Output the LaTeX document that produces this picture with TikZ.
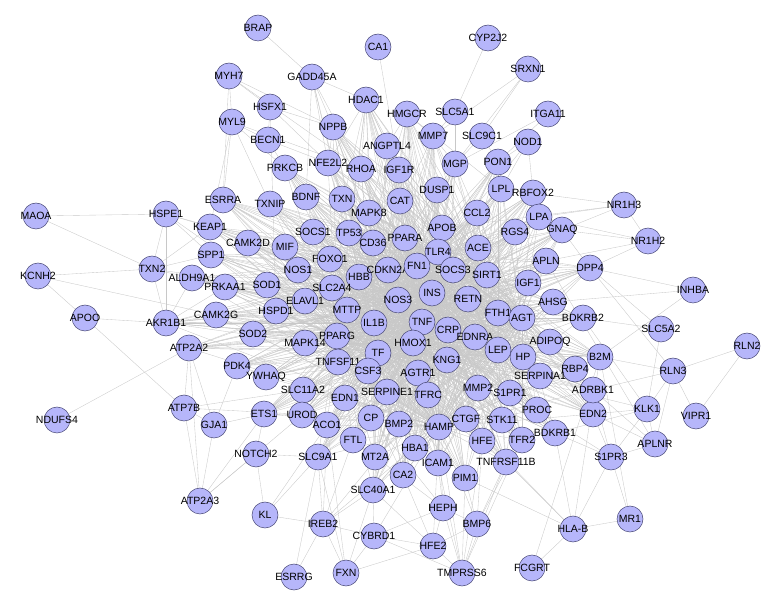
\documentclass[tikz,border=0pt]{standalone}
\usepackage{fontspec}
\setmainfont{Liberation Sans}
\definecolor{genefill}{RGB}{182,182,250}
\definecolor{genedraw}{RGB}{70,70,115}
\definecolor{linkgray}{RGB}{200,200,200}
\pgfdeclarelayer{background}
\pgfsetlayers{background,main}
\begin{document}
\begin{tikzpicture}[x=1pt, y=-1pt,
  font=\fontsize{10.5}{12}\selectfont,
  gene/.style={circle, draw=genedraw, fill=genefill, line width=0.5pt, minimum size=26pt, inner sep=0pt},
  link/.style={draw=linkgray, line width=0.35pt}
]
\useasboundingbox (0,0) rectangle (780,612);

% Gene nodes (pixel positions)
\foreach \g/\x/\y in {
  BRAP/258/28, CA1/378/47, CYP2J2/488/38, SRXN1/528/69, MYH7/229/76, GADD45A/312/77,
  HSFX1/270/107, HDAC1/366/100, MYL9/232/122, NPPB/333/127, BECN1/268/140, ANGPTL4/387/146,
  PRKCB/285/168, NFE2L2/328/163, RHOA/361/169, IGF1R/399/170, ESRRA/223/200, TXNIP/270/204,
  BDNF/306/197, TXN/342/199, HMGCR/407/114, SLC5A1/455/112, ITGA11/548/114, MMP7/433/136,
  SLC9C1/482/136, NOD1/528/142, MGP/455/164, PON1/498/162, DUSP1/437/190, LPL/501/189,
  RBFOX2/533/193, CAT/400/201, NR1H3/624/205, MAOA/36/216, HSPE1/166/214, KEAP1/210/227,
  TXN2/152/269, KCNH2/38/276, SPP1/211/255, ALDH9A1/192/278, CAMK2D/248/243, MIF/285/247,
  SOCS1/313/232, TP53/349/233, CD36/373/243, MAPK8/369/213, FOXO1/330/259, NOS1/298/270,
  HBB/359/277, CDKN2A/388/270, PRKAA1/225/287, SOD1/267/285, SLC2A4/332/288, ELAVL1/305/301,
  MTTP/347/310, AKR1B1/166/323, APOO/85/318, CAMK2G/216/315, HSPD1/276/311, IL1B/374/323,
  ATP2A2/189/348, SOD2/253/334, PPARG/337/336, MAPK14/305/343, TF/378/353, TNFSF11/338/362,
  PDK4/237/366, CSF3/368/371, YWHAQ/266/377, SLC11A2/303/390, EDN1/345/398, SERPINE1/387/392,
  ATP7B/184/408, NDUFS4/57/420, ATP2A3/200/501, GJA1/214/425, ETS1/264/414, UROD/302/415,
  ACO1/327/425, CP/371/418, FTL/353/440, NOTCH2/256/454, SLC9A1/318/457, MT2A/375/457,
  SLC40A1/373/490, KL/265/515, IREB2/323/524, CYBRD1/374/536, ESRRG/294/577, FXN/346/573,
  BMP2/399/424, HAMP/439/427, CTGF/466/419, STK11/502/420, PROC/537/410, BDKRB1/555/433,
  HFE/482/441, TFR2/522/440, HBA1/415/448, ICAM1/438/463, TNFRSF11B/506/462, CA2/403/475,
  PIM1/465/478, HEPH/443/508, BMP6/477/524, HLA-B/573/529, HFE2/433/546, FCGRT/532/568,
  TMPRSS6/462/573, KLK1/647/409, VIPR1/696/416, APLNR/655/444, S1PR3/611/457, MR1/630/519,
  EDN2/593/414, NR1H2/648/241, DPP4/590/268, INHBA/693/290, BDKRB2/583/318, SLC5A2/661/329,
  RLN2/747/346, B2M/600/357, RLN3/673/371, ADRBK1/593/390, RBP4/575/369, CCL2/477/213,
  LPA/539/217, GNAQ/562/230, APOB/442/228, PPARA/405/238, RGS4/515/232, ACE/478/248,
  TLR4/438/252, APLN/546/261, FN1/417/266, SOCS3/453/270, SIRT1/487/275, IGF1/528/283,
  INS/432/293, NOS3/398/300, RETN/468/299, AHSG/553/302, FTH1/498/313, AGT/522/318,
  TNF/422/322, CRP/448/330, EDNRA/475/337, HMOX1/413/343, ADIPOQ/550/342, LEP/498/350,
  KNG1/447/360, HP/523/357, AGTR1/418/373, SERPINA1/540/376, MMP2/478/388, S1PR1/510/393,
  TFRC/428/395}
  \node[gene, label={center:\g}] (\g) at (\x,\y) {};

\begin{pgfonlayer}{background}
% Hub interactions spanning the core
\foreach \h in {INS, TNF, IL1B, HMOX1, PPARG, CRP, LEP, AGT, FN1, TLR4, SIRT1, NOS3, TF, HAMP}
  \foreach \c in {PRKCB, NFE2L2, RHOA, IGF1R, ESRRA, TXNIP, BDNF, TXN, MAPK8, CAT, DUSP1, MGP,
    PON1, LPL, RBFOX2, CCL2, LPA, GNAQ, APOB, PPARA, RGS4, ACE, APLN, SOCS3, IGF1, RETN, AHSG,
    FTH1, EDNRA, ADIPOQ, KNG1, HP, AGTR1, SERPINA1, MMP2, S1PR1, TFRC, SERPINE1, KEAP1, SPP1,
    CAMK2D, MIF, SOCS1, TP53, CD36, FOXO1, NOS1, HBB, CDKN2A, PRKAA1, SOD1, SLC2A4, ELAVL1,
    MTTP, CAMK2G, HSPD1, SOD2, MAPK14, TNFSF11, PDK4, CSF3, YWHAQ, SLC11A2, EDN1, DPP4, BDKRB2,
    B2M, ADRBK1, RBP4, EDN2, PROC, BDKRB1, STK11, CTGF, HFE, TFR2, BMP2, CP, FTL, ACO1, UROD,
    ETS1, HBA1, ICAM1, MT2A, CA2, PIM1, TNFRSF11B, SLC40A1, SLC9A1, HMGCR, MMP7, ANGPTL4,
    HDAC1, NPPB, ALDH9A1, AKR1B1, ATP2A2}
    \draw[link] (\h) -- (\c);

% Hub to hub
\foreach \a/\b in {INS/TNF, INS/IL1B, INS/LEP, INS/AGT, INS/SIRT1, INS/NOS3, TNF/IL1B, TNF/CRP,
  TNF/HMOX1, IL1B/PPARG, HMOX1/NOS3, PPARG/LEP, CRP/LEP, AGT/NOS3, FN1/TLR4, TLR4/TNF,
  SIRT1/PPARG, TF/HAMP, HAMP/HMOX1, TF/HMOX1, FN1/TNF, LEP/AGT, CRP/IL1B}
  \draw[link] (\a) -- (\b);

% Outer genes
\foreach \a/\b in {MAOA/HSPE1, MAOA/TXN2, HSPE1/TXN2, HSPE1/AKR1B1, HSPE1/KEAP1, HSPE1/SPP1,
  HSPE1/SOD1, HSPE1/MIF, KCNH2/TXN2, KCNH2/APOO, KCNH2/CAMK2G, APOO/AKR1B1, APOO/ATP7B,
  TXN2/ALDH9A1, TXN2/SPP1, TXN2/KEAP1, TXN2/AKR1B1, TXN2/SOD1, AKR1B1/ALDH9A1, AKR1B1/PRKAA1,
  AKR1B1/HSPD1, NDUFS4/ATP2A2, ATP7B/ATP2A3, ATP7B/ATP2A2, ATP7B/GJA1, ATP7B/SLC11A2, ATP7B/CP,
  ATP2A3/GJA1, ATP2A3/NOTCH2, ATP2A3/ATP2A2, ATP2A3/UROD, ATP2A3/ETS1, GJA1/ETS1, GJA1/ATP2A2,
  GJA1/PDK4, ETS1/NOTCH2, ETS1/UROD, NOTCH2/KL, NOTCH2/SLC9A1, KL/SLC9A1, KL/IREB2, KL/ACO1,
  IREB2/ESRRG, IREB2/FXN, IREB2/SLC9A1, IREB2/ACO1, IREB2/FTL, IREB2/SLC40A1, IREB2/CYBRD1,
  IREB2/TFRC, IREB2/HAMP, ESRRG/SLC9A1, FXN/CYBRD1, FXN/SLC40A1, FXN/SLC9A1, FXN/ACO1, FXN/HFE2,
  CYBRD1/SLC40A1, CYBRD1/HEPH, CYBRD1/HFE2, CYBRD1/TMPRSS6, CYBRD1/HAMP, TMPRSS6/HFE2,
  TMPRSS6/BMP6, TMPRSS6/HEPH, TMPRSS6/HFE, TMPRSS6/PIM1, TMPRSS6/HAMP, TMPRSS6/ICAM1,
  TMPRSS6/TFR2, TMPRSS6/TNFRSF11B, HFE2/HEPH, HFE2/HAMP, HFE2/BMP6, HFE2/SLC40A1, HFE2/CA2,
  BMP6/HFE, BMP6/PIM1, BMP6/HAMP, BMP6/TNFRSF11B, BMP6/TFR2, BMP6/HEPH, HEPH/HAMP, HEPH/CP,
  HEPH/FTL, HEPH/ICAM1, FCGRT/HLA-B, FCGRT/B2M, HLA-B/MR1, HLA-B/S1PR3, HLA-B/B2M,
  HLA-B/TNFRSF11B, HLA-B/BDKRB1, HLA-B/PIM1, HLA-B/CTGF, MR1/S1PR3, MR1/B2M, S1PR3/APLNR,
  S1PR3/EDN2, S1PR3/S1PR1, S1PR3/ADRBK1, S1PR3/BDKRB1, S1PR3/KLK1, APLNR/KLK1, APLNR/APLN,
  APLNR/EDN2, APLNR/ADRBK1, APLNR/RLN3, KLK1/BDKRB1, KLK1/BDKRB2, KLK1/KNG1, KLK1/EDN2,
  VIPR1/RLN3, VIPR1/RLN2, RLN2/RLN3, RLN3/ADRBK1, RLN3/B2M, RLN3/DPP4, RLN3/KLK1, SLC5A2/DPP4,
  SLC5A2/KLK1, SLC5A2/BDKRB2, INHBA/DPP4, INHBA/B2M, INHBA/AHSG, NR1H3/NR1H2, NR1H3/LPA,
  NR1H3/GNAQ, NR1H3/APOB, NR1H3/LPL, NR1H2/DPP4, NR1H2/LPA, NR1H2/APLN, NR1H2/GNAQ, DPP4/GNAQ,
  DPP4/APLN, DPP4/IGF1, BRAP/GADD45A, CA1/IGF1R, CYP2J2/SLC5A1, SRXN1/SLC9C1, SRXN1/MGP,
  SRXN1/MMP7, ITGA11/PON1, ITGA11/MGP, NOD1/PON1, NOD1/LPL, NOD1/TLR4, NOD1/RBFOX2, MYH7/MYL9,
  MYH7/HSFX1, MYH7/NPPB, MYH7/ESRRA, MYH7/RHOA, MYL9/BECN1, MYL9/ESRRA, MYL9/PRKCB, MYL9/TXNIP,
  MYL9/KEAP1, MYL9/RHOA, HSFX1/BECN1, HSFX1/NPPB, HSFX1/NFE2L2, HSFX1/HSPD1, GADD45A/NPPB,
  GADD45A/NFE2L2, GADD45A/HDAC1, GADD45A/TXN, GADD45A/RHOA, GADD45A/TP53, GADD45A/BDNF,
  HDAC1/RHOA, HDAC1/NFE2L2, HDAC1/IGF1R, HDAC1/TP53, HDAC1/FOXO1, NPPB/NFE2L2, NPPB/RHOA,
  NPPB/ACE, BECN1/PRKCB, BECN1/NFE2L2, HMGCR/ANGPTL4, HMGCR/IGF1R, HMGCR/MMP7, HMGCR/LPL,
  HMGCR/APOB, SLC5A1/MMP7, SLC5A1/MGP, SLC9C1/MGP, SLC9C1/PON1, MMP7/MGP}
  \draw[link] (\a) -- (\b);
\end{pgfonlayer}
\end{tikzpicture}
\end{document}
